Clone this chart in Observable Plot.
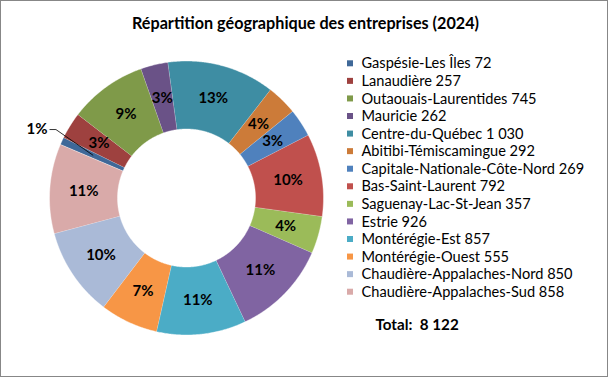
<!DOCTYPE html>
<html>
<head>
<meta charset="utf-8">
<script src="https://cdn.jsdelivr.net/npm/d3@7"></script>
<script src="https://cdn.jsdelivr.net/npm/@observablehq/plot@0.6"></script>
<style>
  html, body { margin: 0; padding: 0; background: #fff; }
  #frame { width: 608px; height: 377px; box-sizing: border-box; border: 1px solid #878787; background: #fff; overflow: hidden; }
  #title { height: 39px; line-height: 44px; text-align: center; font-family: Lato, sans-serif; font-weight: bold; font-size: 16.2px; color: #000; padding-left: 3px; }
  svg { display: block; }
</style>
</head>
<body>
<div id="frame">
  <div id="title">Répartition géographique des entreprises (2024)</div>
  <div id="chart"></div>
</div>
<script>
// ---- data ----
const regions = [
  "Gaspésie-Les Îles", "Lanaudière", "Outaouais-Laurentides", "Mauricie",
  "Centre-du-Québec", "Abitibi-Témiscamingue", "Capitale-Nationale-Côte-Nord",
  "Bas-Saint-Laurent", "Saguenay-Lac-St-Jean", "Estrie", "Montérégie-Est",
  "Montérégie-Ouest", "Chaudière-Appalaches-Nord", "Chaudière-Appalaches-Sud"
];
const counts = [72, 257, 745, 262, 1030, 292, 269, 792, 357, 926, 857, 555, 850, 858];
const colors = [
  "#3F6898", "#9E413F", "#7F9A49", "#6A5287", "#3E8DA3", "#CC7B39",
  "#4F81BD", "#C0504D", "#9BBB59", "#8064A2", "#4BACC6", "#F79646",
  "#AABAD7", "#D9AAA9"
];
const totalLabel = "Total:";

// ---- layout ----
const W = 606, H = 336;
const cx = 185, cy = 157.5, rOut = 137, rIn = 69, rLab = 103;
const startAngle = 293; // degrees, clockwise from top
const fmt = d3.formatLocale({decimal: ",", thousands: "\u00a0", grouping: [3], currency: ["", ""]}).format(",d");
const total = d3.sum(counts);

const rad = a => a * Math.PI / 180;
const px = (a, r) => cx + r * Math.sin(rad(a));
const py = (a, r) => cy - r * Math.cos(rad(a));

let cum = 0;
const slices = regions.map((name, i) => {
  const a0 = startAngle + cum / total * 360;
  cum += counts[i];
  const a1 = startAngle + cum / total * 360;
  return {name, value: counts[i], a0, a1, mid: (a0 + a1) / 2, pct: counts[i] / total};
});

const ring = [];
for (const s of slices) {
  const n = Math.max(2, Math.ceil((s.a1 - s.a0) / 0.5));
  for (let k = 0; k <= n; k++) {
    const a = s.a0 + (s.a1 - s.a0) * k / n;
    ring.push({name: s.name, x: px(a, rOut), y: py(a, rOut)});
  }
  for (let k = n; k >= 0; k--) {
    const a = s.a0 + (s.a1 - s.a0) * k / n;
    ring.push({name: s.name, x: px(a, rIn), y: py(a, rIn)});
  }
}

const inside = slices.filter(s => s.pct >= 0.02);
const outside = slices.filter(s => s.pct < 0.02);
const pctText = s => Math.round(s.pct * 100) + "%";

const outLabels = outside.map(s => ({...s, x: px(s.mid, 164.5), y: py(s.mid, 164.5)}));
const leaders = outLabels.flatMap(s => [
  {name: s.name, x: s.x + 13, y: s.y},
  {name: s.name, x: s.x + 19, y: s.y},
  {name: s.name, x: px(s.mid, rLab), y: py(s.mid, rLab)}
]);

const legX = 346, legY0 = 23.3, legDy = 17.57, sw = 6;
const legend = slices.map((s, i) => ({
  name: s.name,
  label: s.name + " " + fmt(s.value),
  y: legY0 + i * legDy
}));

const font = "Lato, sans-serif";

const chart = Plot.plot({
  width: W, height: H, margin: 0,
  x: {type: "linear", domain: [0, W], range: [0, W], axis: null},
  y: {type: "linear", domain: [0, H], range: [0, H], axis: null},
  color: {type: "ordinal", domain: regions, range: colors},
  style: {fontFamily: font, background: "transparent"},
  marks: [
    Plot.line(ring, {x: "x", y: "y", z: "name", fill: "name", stroke: "white", strokeWidth: 0.6, strokeOpacity: 0.7}),
    Plot.text(inside, {x: s => px(s.mid, rLab), y: s => py(s.mid, rLab), text: pctText,
      fontWeight: "bold", fontSize: 15, fill: "black"}),
    Plot.line(leaders, {x: "x", y: "y", z: "name", stroke: "black", strokeWidth: 0.8}),
    Plot.text(outLabels, {x: "x", y: "y", text: pctText, fontWeight: "bold", fontSize: 15, fill: "black"}),
    Plot.rect(legend, {x1: legX, x2: legX + sw, y1: d => d.y - sw / 2, y2: d => d.y + sw / 2, fill: "name"}),
    Plot.text(legend, {x: legX + 14, y: "y", text: "label", textAnchor: "start", fontSize: 14.6, fill: "black"}),
    Plot.text([totalLabel + "\u00a0 " + fmt(total)], {x: 374, y: 285, text: d => d, textAnchor: "start", fontWeight: "bold", fontSize: 15.2, fill: "black"})
  ]
});
document.getElementById("chart").appendChild(chart);
</script>
</body>
</html>
